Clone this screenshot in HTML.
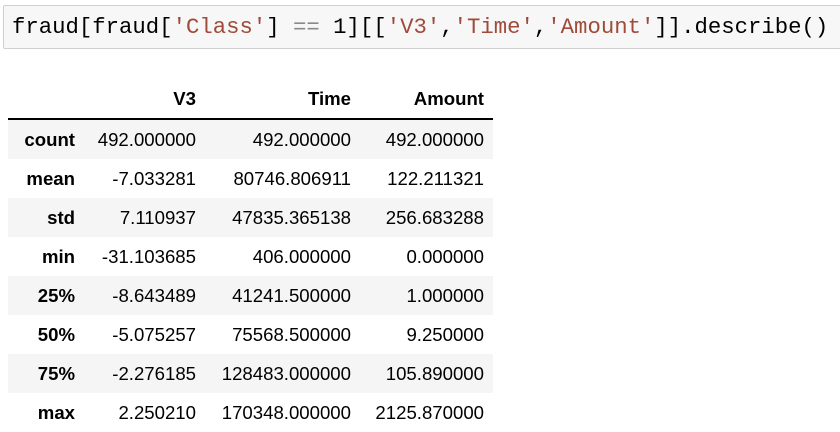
<!DOCTYPE html>
<html><head><meta charset="utf-8"><style>
body{margin:0;width:840px;height:430px;background:#fff;overflow:hidden;position:relative;font-family:"Liberation Sans",sans-serif}
.code{position:absolute;left:3px;top:5px;width:845px;height:44px;border:1px solid #cfcfcf;background:#f7f7f7;border-radius:2px;box-sizing:border-box}
.code pre{margin:0;position:absolute;left:8px;top:8px;font-family:"Liberation Mono",monospace;font-size:22.3px;line-height:26px;color:#000}
.s{color:#a04a3a}.o{color:#8a8a8a}
table{position:absolute;left:8px;top:80px;border-collapse:collapse;font-size:18.6px;color:#000}
th,td{text-align:right;padding:0;height:39px}
thead th{height:38px;border-bottom:2px solid #000;font-weight:bold}
tbody th{font-weight:bold}
tbody tr:nth-child(odd){background:#f5f5f5}
.c0{width:67px}
.c1{width:121px}.c2{width:155px}.c3{width:133px;padding-right:9px}
</style></head><body>
<div class="code"><pre>fraud[fraud[<span class="s">'Class'</span>] <span class="o">==</span> 1][[<span class="s">'V3'</span>,<span class="s">'Time'</span>,<span class="s">'Amount'</span>]].describe()</pre></div>
<table>
<thead><tr><th class="c0"></th><th class="c1">V3</th><th class="c2">Time</th><th class="c3">Amount</th></tr></thead>
<tbody>
<tr><th class="c0">count</th><td>492.000000</td><td>492.000000</td><td class="c3">492.000000</td></tr>
<tr><th class="c0">mean</th><td>-7.033281</td><td>80746.806911</td><td class="c3">122.211321</td></tr>
<tr><th class="c0">std</th><td>7.110937</td><td>47835.365138</td><td class="c3">256.683288</td></tr>
<tr><th class="c0">min</th><td>-31.103685</td><td>406.000000</td><td class="c3">0.000000</td></tr>
<tr><th class="c0">25%</th><td>-8.643489</td><td>41241.500000</td><td class="c3">1.000000</td></tr>
<tr><th class="c0">50%</th><td>-5.075257</td><td>75568.500000</td><td class="c3">9.250000</td></tr>
<tr><th class="c0">75%</th><td>-2.276185</td><td>128483.000000</td><td class="c3">105.890000</td></tr>
<tr><th class="c0">max</th><td>2.250210</td><td>170348.000000</td><td class="c3">2125.870000</td></tr>
</tbody></table>
</body></html>
